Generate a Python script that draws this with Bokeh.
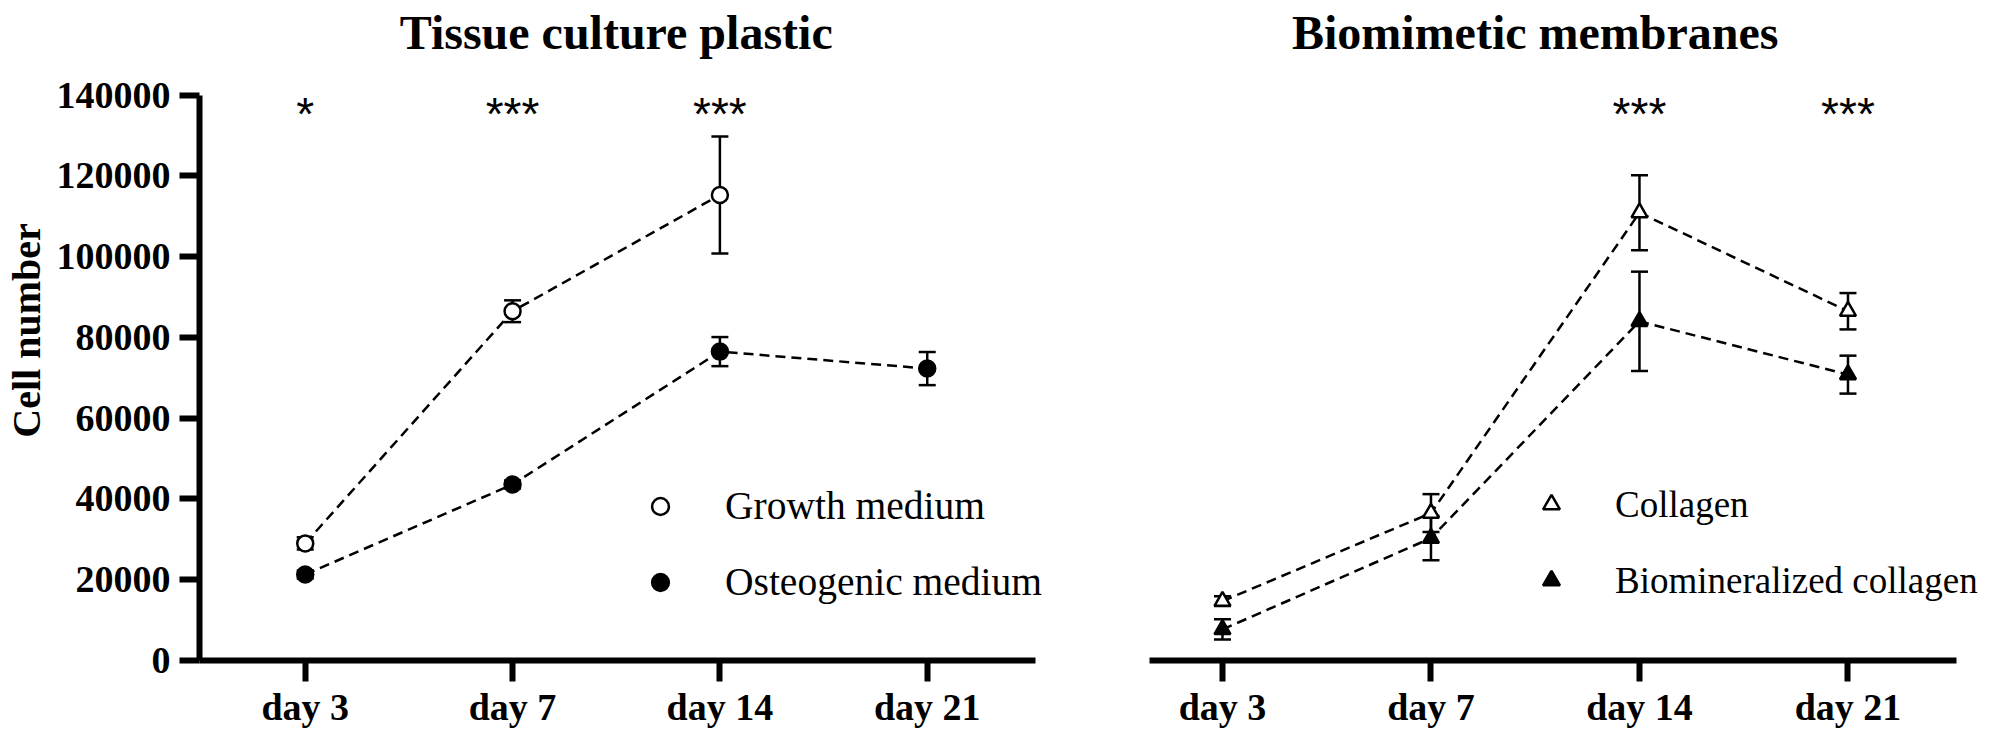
from bokeh.plotting import figure
from bokeh.layouts import row
from bokeh.models import (ColumnDataSource, Range1d, FixedTicker, Whisker, TeeHead,
                          Legend, LegendItem, Label)
from bokeh.core.properties import value
from bokeh.embed import file_html
from bokeh.resources import INLINE

# ---------------- data ----------------
days = ["day 3", "day 7", "day 14", "day 21"]
y_ticks = [0, 20000, 40000, 60000, 80000, 100000, 120000, 140000]
y_tick_labels = ["0", "20000", "40000", "60000", "80000", "100000", "120000", "140000"]
y_label = "Cell number"
titles = ["Tissue culture plastic", "Biomimetic membranes"]

# Tissue culture plastic
growth_days = ["day 3", "day 7", "day 14"]
growth_mean = [29000, 86500, 115300]
growth_err = [1500, 2700, 14500]
osteo_days = ["day 3", "day 7", "day 14", "day 21"]
osteo_mean = [21300, 43600, 76500, 72300]
osteo_err = [1000, 1000, 3600, 4100]
left_labels = ["Growth medium", "Osteogenic medium"]
left_sig = ["*", "***", "***", ""]

# Biomimetic membranes
collagen_mean = [14700, 36500, 110900, 86500]
collagen_err = [1200, 4700, 9300, 4500]
biomin_mean = [7700, 30300, 84000, 70800]
biomin_err = [2500, 5500, 12300, 4700]
right_labels = ["Collagen", "Biomineralized collagen"]
right_sig = ["", "", "***", "***"]

# ---------------- layout constants ----------------
SERIF = "Liberation Serif"
SANS = "Liberation Sans"
FIG_H = 730
FRAME_H = 662
PX_PER_UNIT = 567 / 140000.0
Y_END = FRAME_H / PX_PER_UNIT
BOTTOM = FIG_H - FRAME_H
PX_PER_DAY = 208.5


def y_at(page_px):
    """data y for a page pixel row (frame top = page 8)"""
    return (8 + FRAME_H - page_px) / PX_PER_UNIT


idx = {d: i for i, d in enumerate(days)}


def make_fig(width, bl, xs, x_axis_end):
    frame_w = width - bl
    xe = xs + frame_w / PX_PER_DAY
    p = figure(width=width, height=FIG_H, x_range=Range1d(xs, xe), y_range=Range1d(0, Y_END),
               output_backend="svg", toolbar_location=None,
               min_border_left=bl, min_border_right=0, min_border_top=0, min_border_bottom=BOTTOM)
    p.outline_line_color = None
    p.grid.visible = False
    p.background_fill_color = "white"
    p.border_fill_color = "white"
    ax = p.xaxis[0]
    ax.bounds = (xs, x_axis_end)
    ax.ticker = FixedTicker(ticks=list(range(len(days))))
    ax.major_label_overrides = {i: d for i, d in enumerate(days)}
    ax.major_label_text_font = SERIF
    ax.major_label_text_font_style = "bold"
    ax.major_label_text_font_size = "38px"
    ax.major_label_text_color = "black"
    ax.major_label_standoff = 4
    ax.axis_line_width = 6
    ax.axis_line_color = "black"
    ax.major_tick_line_width = 6
    ax.major_tick_line_color = "black"
    ax.major_tick_out = 21
    ax.major_tick_in = 0
    ax.minor_tick_line_color = None
    return p


def add_series(p, xs, mean, err, marker, fill):
    src = ColumnDataSource(dict(x=[idx[d] for d in xs], y=mean,
                                upper=[m + e for m, e in zip(mean, err)],
                                lower=[m - e for m, e in zip(mean, err)]))
    p.line("x", "y", source=src, line_dash="10 6", line_width=2.5, line_color="black")
    w = Whisker(source=src, base="x", upper="upper", lower="lower",
                line_width=2.5, line_color="black",
                upper_head=TeeHead(size=17, line_width=2.5, line_color="black"),
                lower_head=TeeHead(size=17, line_width=2.5, line_color="black"))
    p.add_layout(w)
    r = p.scatter("x", "y", source=src, marker=marker, size=16,
                  fill_color=fill, line_color="black", line_width=2.5)
    return r


def add_sig(p, sig):
    xs = [i for i, s in enumerate(sig) if s]
    ts = [s for s in sig if s]
    p.text(x=xs, y=[y_at(122)] * len(xs), text=ts, text_font=value(SANS),
           text_font_size="46px", text_align="center", text_baseline="alphabetic",
           text_color="black")


def add_title(p, text):
    p.add_layout(Label(x=(len(days) - 1) / 2.0, y=y_at(40), text=text, text_font=SERIF,
                       text_font_style="bold", text_font_size="48px", text_align="center",
                       text_baseline="alphabetic", text_color="black"))


def add_legend(p, items, loc, font_size, standoff):
    lg = Legend(items=items, location=loc, orientation="vertical",
                glyph_width=42, glyph_height=46, label_height=46, spacing=30,
                label_standoff=standoff, padding=0, margin=0,
                label_text_font=SERIF, label_text_font_size=font_size,
                label_text_color="black",
                background_fill_alpha=0, border_line_alpha=0)
    p.add_layout(lg)


# ---------------- left panel ----------------
p1 = make_fig(1084, 194, -0.51, 3.52)
ya = p1.yaxis[0]
ya.ticker = FixedTicker(ticks=y_ticks)
ya.major_label_overrides = dict(zip(y_ticks, y_tick_labels))
ya.bounds = (y_ticks[0], y_ticks[-1])
ya.major_label_text_font = SERIF
ya.major_label_text_font_style = "bold"
ya.major_label_text_font_size = "38px"
ya.major_label_text_color = "black"
ya.major_label_standoff = 9
ya.axis_line_width = 6
ya.axis_line_color = "black"
ya.major_tick_line_width = 6
ya.major_tick_line_color = "black"
ya.major_tick_out = 20
ya.major_tick_in = 0
ya.minor_tick_line_color = None
ya.axis_label = y_label
ya.axis_label_text_font = SERIF
ya.axis_label_text_font_style = "bold"
ya.axis_label_text_font_size = "40px"
ya.axis_label_text_color = "black"
ya.axis_label_standoff = 5

rg = add_series(p1, growth_days, growth_mean, growth_err, "circle", "white")
ro = add_series(p1, osteo_days, osteo_mean, osteo_err, "circle", "black")
add_sig(p1, left_sig)
add_title(p1, titles[0])
add_legend(p1, [LegendItem(label=left_labels[0], renderers=[rg]),
                LegendItem(label=left_labels[1], renderers=[ro])],
           (440, 55), "39.5px", 44)

# ---------------- right panel ----------------
p2 = make_fig(897, 65, -0.35, 3.52)
p2.yaxis.visible = False
rc = add_series(p2, days, collagen_mean, collagen_err, "triangle", "white")
rb = add_series(p2, days, biomin_mean, biomin_err, "triangle", "black")
add_sig(p2, right_sig)
add_title(p2, titles[1])
add_legend(p2, [LegendItem(label=right_labels[0], renderers=[rc]),
                LegendItem(label=right_labels[1], renderers=[rb])],
           (381, 57), "37px", 43)

layout = row(p1, p2)
open("out.html", "w").write(file_html(layout, INLINE))
